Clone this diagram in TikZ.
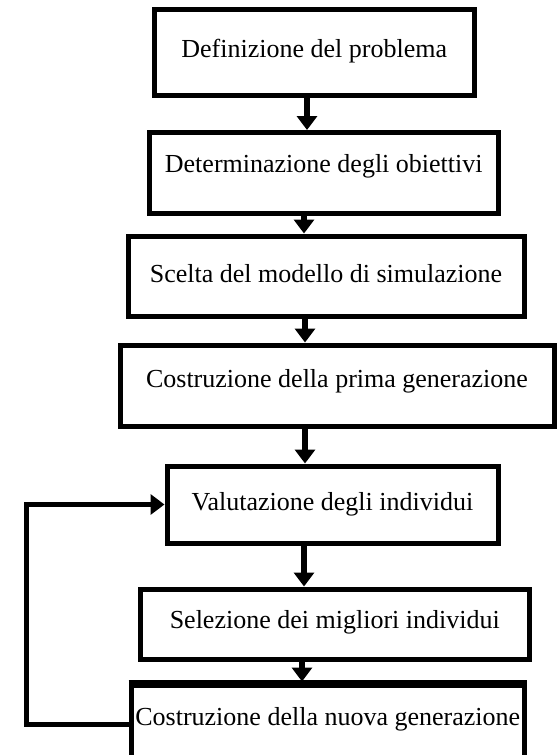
\documentclass[tikz,border=0pt]{standalone}
\usepackage{fontspec}
\setmainfont{Liberation Serif}
\usetikzlibrary{arrows.meta}
\tikzset{
  box/.style={draw=black, line width=5pt, rectangle, inner sep=0pt, outer sep=0pt,
    font=\fontsize{26}{30}\selectfont, align=center},
  arr/.style={line width=5.5pt, -{Triangle[length=14pt,width=20pt]}, shorten >=2.5pt},
  fbline/.style={line width=5pt, -{Triangle[length=14pt,width=20pt]}, shorten >=2.5pt},
  thicktop/.style={line width=8pt, shorten <=-2.5pt, shorten >=-2.5pt}
}
\begin{document}
\begin{tikzpicture}[x=1pt,y=-1pt]
\useasboundingbox (0,0) rectangle (559,755);
\clip (0,0) rectangle (559,755);
\fill[white] (0,0) rectangle (559,755);

\node[box, minimum width=319.5pt, text height=47.5pt, text depth=38pt] (b1) at (314.25,52.25) {Definizione del problema};
\node[box, minimum width=349.5pt, text height=39.5pt, text depth=41pt] (b2) at (323.75,172.75) {Determinazione degli obiettivi};
\node[box, minimum width=396pt, text height=46pt, text depth=34pt] (b3) at (326,276) {Scelta del modello di simulazione};
\node[box, minimum width=434pt, text height=42pt, text depth=39pt] (b4) at (337,385.5) {Costruzione della prima generazione};
\node[box, minimum width=331pt, text height=44pt, text depth=33pt] (b5) at (332.5,504.5) {Valutazione degli individui};
\node[box, minimum width=389.5pt, text height=39pt, text depth=31pt] (b6) at (334.75,624) {Selezione dei migliori individui};
\node[box, minimum width=393.5pt, text height=41pt, text depth=65pt] (b7) at (327.75,737) {Costruzione della nuova generazione};
\draw[thicktop] (b7.north west) -- (b7.north east);

\coordinate (a1) at (307,0);
\coordinate (a2) at (304,0);
\coordinate (a3) at (305,0);
\coordinate (a4) at (305,0);
\coordinate (a5) at (304,0);
\coordinate (a6) at (302,0);

\draw[arr] (b1.south -| a1) -- (b2.north -| a1);
\draw[arr] (b2.south -| a2) -- (b3.north -| a2);
\draw[arr] (b3.south -| a3) -- (b4.north -| a3);
\draw[arr] (b4.south -| a4) -- (b5.north -| a4);
\draw[arr] (b5.south -| a5) -- (b6.north -| a5);
\draw[arr] (b6.south -| a6) -- (b7.north -| a6);

\coordinate (fb) at (26.5,724.5);
\draw[fbline] (b7.west |- fb) -- (fb) |- (b5.west);
\end{tikzpicture}
\end{document}
